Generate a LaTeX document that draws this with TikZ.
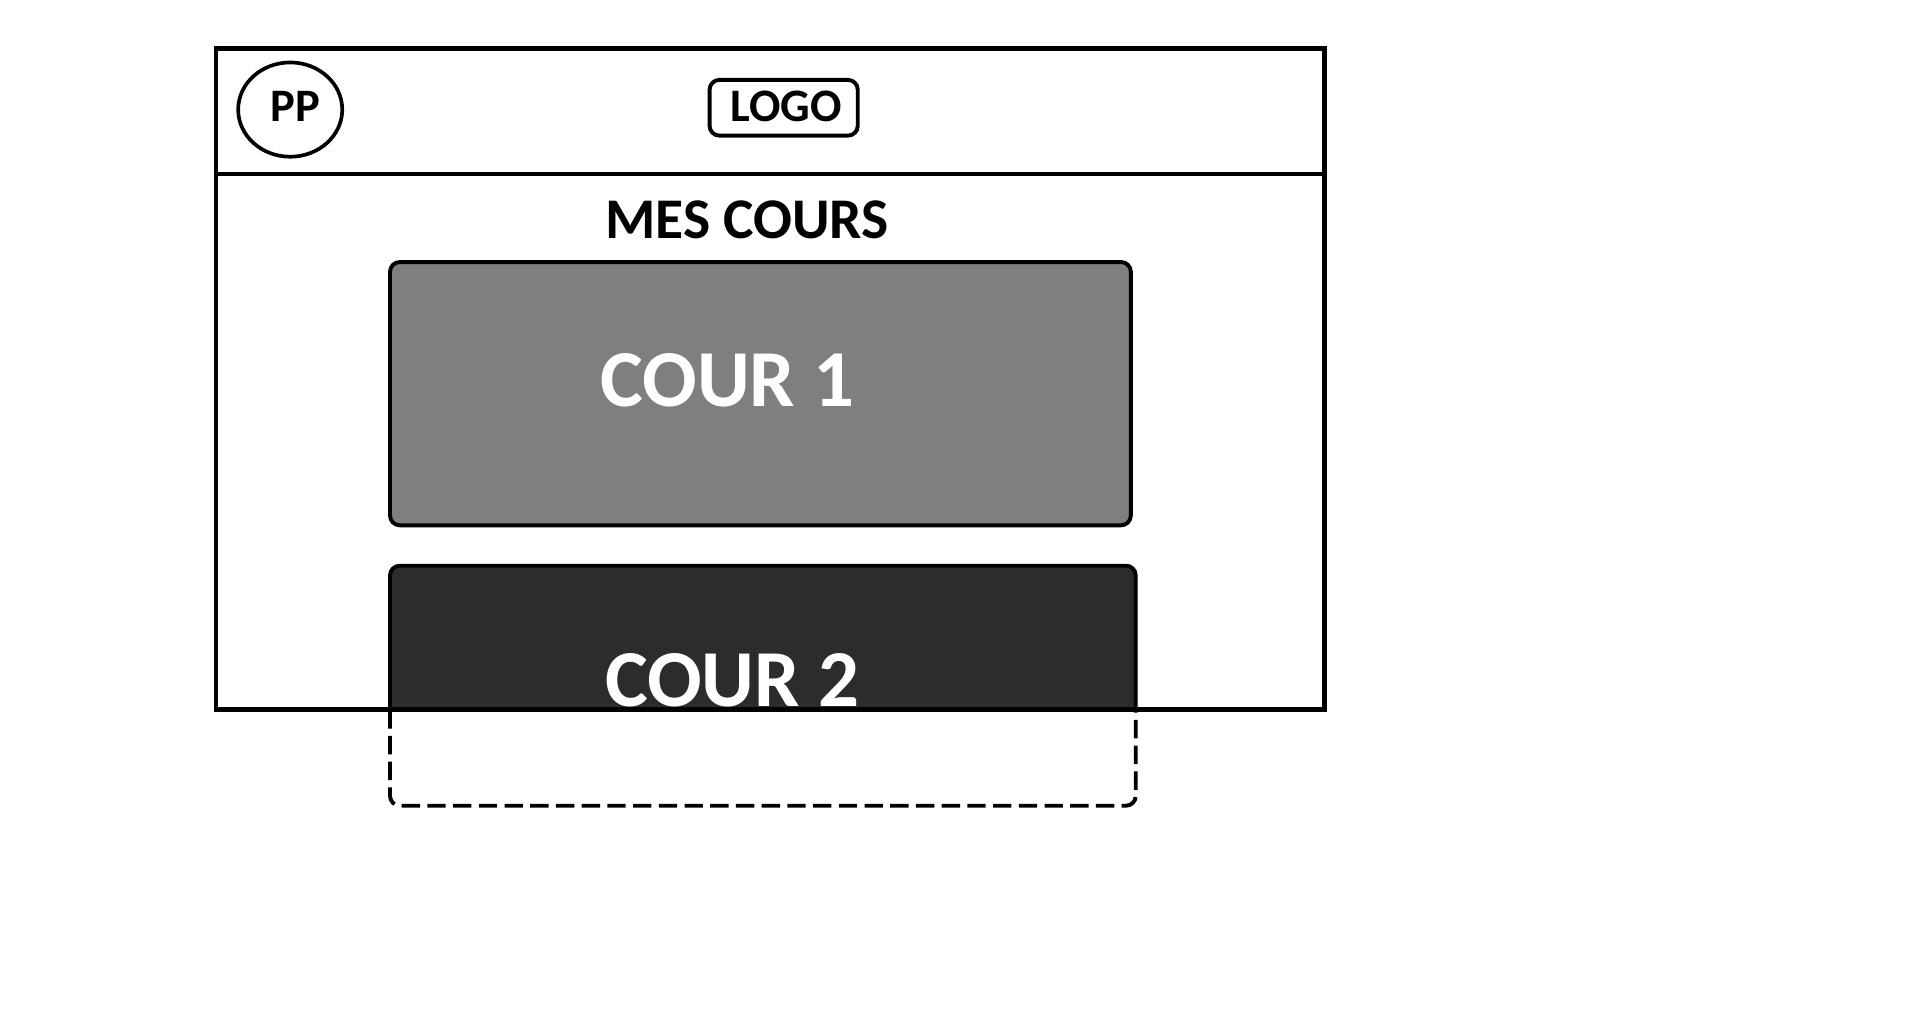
\documentclass[tikz,border=0pt]{standalone}
\usepackage{fontspec}
\setmainfont{Carlito}
\usetikzlibrary{shapes.geometric}

\definecolor{courgris}{HTML}{7F7F7F}
\definecolor{coursombre}{HTML}{2C2C2C}

\tikzset{
  trait/.style={line width=3.6pt},
  boite/.style={line width=3.2pt, rounded corners=8pt},
  titre/.style={font=\bfseries\fontsize{47}{50}\selectfont, anchor=base},
  cour/.style={font=\bfseries\fontsize{66}{70}\selectfont, text=white, anchor=base},
}

\begin{document}
\begin{tikzpicture}[x=1pt, y=-1pt]
			\useasboundingbox (0,0) rectangle (1568,824);

			% cadre de la page et en-tete
			\draw[trait] (176.5,39.5) rectangle (1081.5,579.5);
			\draw[trait] (176.5,142) -- (1081.5,142);

			\node[draw, ellipse, line width=3pt, minimum width=85pt, minimum height=77pt] (pp) at (237,89.5) {};
			\node[font=\bfseries\fontsize{38}{40}\selectfont, anchor=base] (pptext) at (241,99) {PP};
			\node[draw, boite, minimum width=121pt, minimum height=45.5pt] (logo) at (640,88) {};
			\node[font=\bfseries\fontsize{38}{40}\selectfont, anchor=base] (logotext) at (642,99.4) {LOGO};

			\node[titre] (mescours) at (610,195) {MES COURS};

			% cours 1
			\draw[boite, fill=courgris] (318.5,214) rectangle (923.5,429);

			% cours 2 : partie visible puis partie hors ecran
			\draw[boite, fill=coursombre] (318.5,580) -- (318.5,462) -- (927.5,462) -- (927.5,580);
			\draw[boite, dash pattern=on 15pt off 6pt] (318.5,580) -- (318.5,658) -- (927.5,658) -- (927.5,580);
			\draw[trait] (318.5,579.5) -- (927.5,579.5);

			\def\cours {c1/594/332/COUR 1, c2/598/577/COUR 2}  % texte des cours
			\foreach \n/\x/\y/\texte in \cours
			{	\node[cour] (\n) at (\x,\y) {\texte};
			}
		\end{tikzpicture}
\end{document}
